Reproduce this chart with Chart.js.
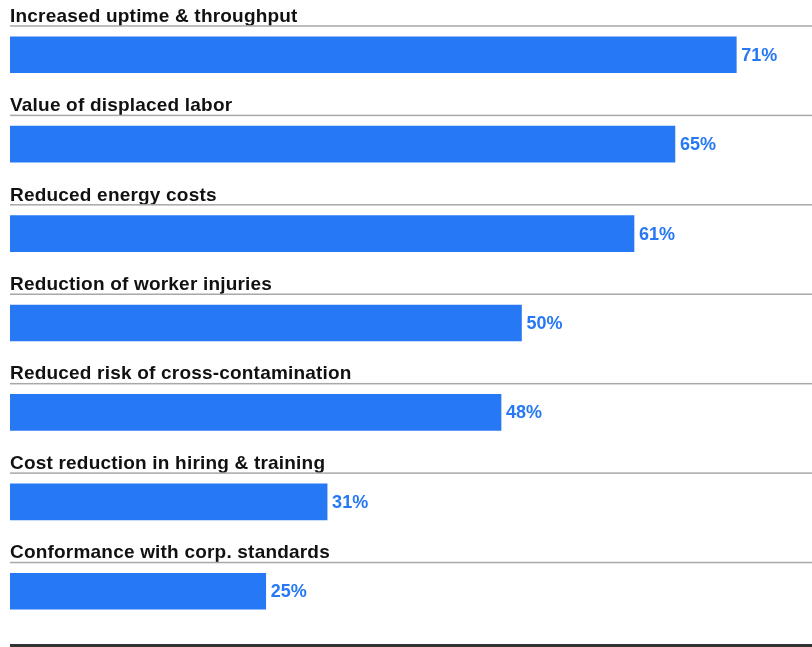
<!DOCTYPE html>
<html>
<head>
<meta charset="utf-8">
<script src="https://cdn.jsdelivr.net/npm/chart.js@4"></script>
<style>
  html, body { margin: 0; padding: 0; background: #fff; }
  #wrap { width: 812px; height: 647px; }
</style>
</head>
<body>
<div id="wrap"><canvas id="chart" width="812" height="647"></canvas></div>
<script>
// Chart data
const categories = [
  'Increased uptime & throughput',
  'Value of displaced labor',
  'Reduced energy costs',
  'Reduction of worker injuries',
  'Reduced risk of cross-contamination',
  'Cost reduction in hiring & training',
  'Conformance with corp. standards'
];
const values = [71, 65, 61, 50, 48, 31, 25];

const BLUE = '#2778f4';
const FONT = '"Liberation Sans", Arial, sans-serif';

// draws category titles, separator lines, value labels and bottom rule
const annotate = {
  id: 'annotate',
  afterDatasetsDraw(chart) {
    const ctx = chart.ctx;
    const bars = chart.getDatasetMeta(0).data;
    const left = chart.chartArea.left;
    const right = chart.width;
    ctx.save();
    bars.forEach((bar, i) => {
      const top = bar.y - bar.height / 2;
      // title
      ctx.fillStyle = '#111';
      ctx.font = 'bold 19px ' + FONT;
      ctx.letterSpacing = '0.2px';
      ctx.textAlign = 'left';
      ctx.textBaseline = 'alphabetic';
      ctx.fillText(categories[i], left, top - 15);
      // thin grey rule
      ctx.fillStyle = '#a8a8a8';
      ctx.fillRect(left, top - 11.5, right - left, 1.5);
      // value
      ctx.fillStyle = BLUE;
      ctx.font = 'bold 18px ' + FONT;
      ctx.letterSpacing = '0px';
      ctx.textBaseline = 'middle';
      ctx.fillText(values[i] + '%', bar.x + 5, bar.y + 1);
    });
    // bottom rule
    ctx.fillStyle = '#333';
    ctx.fillRect(left, 644, right - left, 3);
    ctx.restore();
  }
};

new Chart(document.getElementById('chart'), {
  type: 'bar',
  data: {
    labels: categories,
    datasets: [{
      data: values,
      backgroundColor: BLUE,
      barThickness: 36,
      borderWidth: 0
    }]
  },
  options: {
    indexAxis: 'y',
    responsive: false,
    animation: false,
    layout: { padding: { left: 10, right: 0, top: 10, bottom: 11 } },
    scales: {
      x: { display: false, min: 0, max: 78.4 },
      y: { display: false }
    },
    plugins: {
      legend: { display: false },
      tooltip: { enabled: false }
    }
  },
  plugins: [annotate]
});
</script>
</body>
</html>
